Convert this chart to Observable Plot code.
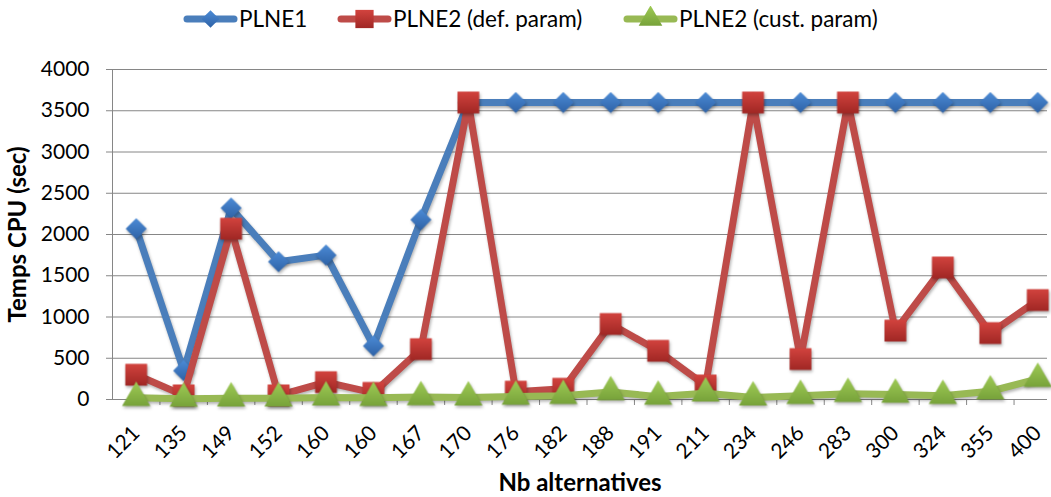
<!DOCTYPE html>
<html>
<head>
<meta charset="utf-8">
<script src="https://cdn.jsdelivr.net/npm/d3@7"></script>
<script src="https://cdn.jsdelivr.net/npm/@observablehq/plot@0.6"></script>
<style>
  html, body { margin: 0; padding: 0; background: #fff; }
  body { width: 1051px; height: 497px; overflow: hidden; font-family: Lato, "Open Sans", sans-serif; }
  #legend { position: relative; height: 38px; width: 1051px; }
  .item { position: absolute; top: 5px; display: flex; align-items: center; font-size: 22.5px; color: #000; white-space: nowrap; }
  .item svg { display: block; margin-right: 1px; }
  #defs { position: absolute; width: 0; height: 0; }
</style>
</head>
<body>
<svg id="defs" aria-hidden="true">
  <defs>
    <linearGradient id="gBlue" x1="0" y1="0" x2="0" y2="1">
      <stop offset="0" stop-color="#4C8BD6"/><stop offset="1" stop-color="#2E62A6"/>
    </linearGradient>
    <linearGradient id="gRed" x1="0" y1="0" x2="0" y2="1">
      <stop offset="0" stop-color="#D2433E"/><stop offset="1" stop-color="#A02724"/>
    </linearGradient>
    <linearGradient id="gGreen" x1="0" y1="0" x2="0" y2="1">
      <stop offset="0" stop-color="#9FCB55"/><stop offset="1" stop-color="#77A23A"/>
    </linearGradient>
  </defs>
</svg>
<div id="legend"></div>
<div id="chart"></div>
<script>
// ---- data ----
const labels = ["121","135","149","152","160","160","167","170","176","182","188","191","211","234","246","283","300","324","355","400"];
const plne1     = [2070, 350, 2320, 1670, 1750, 650, 2180, 3600, 3600, 3600, 3600, 3600, 3600, 3600, 3600, 3600, 3600, 3600, 3600, 3600];
const plne2Def  = [300, 50, 2070, 50, 210, 80, 610, 3600, 95, 130, 915, 590, 170, 3600, 490, 3600, 835, 1600, 805, 1205];
const plne2Cust = [20, 10, 15, 15, 25, 20, 30, 25, 35, 45, 90, 35, 75, 25, 45, 70, 60, 45, 100, 250];
const seriesNames = ["PLNE1", "PLNE2 (def. param)", "PLNE2 (cust. param)"];
const yTicks = [0, 500, 1000, 1500, 2000, 2500, 3000, 3500, 4000];

const styles = {
  "PLNE1": {line: "#4A7EBB", fill: "url(#gBlue)", symbol: "diamond2", r: 9.5},
  "PLNE2 (def. param)": {line: "#BE4B48", fill: "url(#gRed)", symbol: "square", r: 12.3},
  "PLNE2 (cust. param)": {line: "#98B954", fill: "url(#gGreen)", symbol: "triangle", r: 10.5}
};

const seriesValues = [plne1, plne2Def, plne2Cust];
const rows = seriesValues.flatMap((vals, s) => vals.map((v, i) => ({series: seriesNames[s], i, value: v})));
const idx = labels.map((_, i) => i);
const edges = labels.map((_, i) => i + 0.5);

// ---- legend ----
const legend = document.getElementById("legend");
const legendLeft = [183, 337, 623];
seriesNames.forEach((name, k) => {
  const st = styles[name];
  const item = document.createElement("div");
  item.className = "item";
  item.style.left = legendLeft[k] + "px";
  const sw = d3.create("svg").attr("width", 55).attr("height", 26);
  sw.append("line").attr("x1", 4).attr("x2", 51).attr("y1", 13).attr("y2", 13)
    .attr("stroke", st.line).attr("stroke-width", 7).attr("stroke-linecap", "round");
  const sym = d3.symbol().type({diamond2: d3.symbolDiamond2, square: d3.symbolSquare, triangle: d3.symbolTriangle}[st.symbol]).size(Math.PI * st.r * st.r * 0.7);
  sw.append("path").attr("d", sym()).attr("transform", "translate(27.5,13)").attr("fill", st.fill);
  item.appendChild(sw.node());
  const t = document.createElement("span");
  t.textContent = name;
  item.appendChild(t);
  legend.appendChild(item);
});

// ---- chart ----
const gray = "#868686";
const marks = [
  Plot.gridY(yTicks, {stroke: gray, strokeOpacity: 1, strokeWidth: 1}),
  Plot.frame({anchor: "left", stroke: gray, strokeWidth: 1}),
  Plot.axisY(yTicks, {tickSize: 6, tickPadding: 17, tickFormat: d3.format("d"), stroke: gray, fill: "#000", fontSize: 21, label: null}),
  Plot.axisX(edges, {tickSize: 6, tickFormat: () => "", stroke: gray, label: null}),
  Plot.axisX(idx, {tickSize: 0, tickPadding: 30, tickRotate: -45, tickFormat: i => labels[i], fill: "#000", fontSize: 21, label: null}),
  Plot.text(["Temps CPU (sec)"], {frameAnchor: "left", textAnchor: "middle", rotate: -90, dx: -94, fontWeight: "bold", fontSize: 24, fill: "#000"}),
  Plot.text(["Nb alternatives"], {frameAnchor: "bottom", textAnchor: "middle", dy: 91, fontWeight: "bold", fontSize: 24, fill: "#000"})
];
seriesNames.forEach(name => {
  const st = styles[name];
  const d = rows.filter(r => r.series === name);
  marks.push(
    Plot.line(d, {x: "i", y: "value", stroke: st.line, strokeWidth: 7, strokeLinecap: "round", strokeLinejoin: "round", curve: "linear"}),
    Plot.dot(d, {x: "i", y: "value", symbol: st.symbol, r: st.r, fill: st.fill, stroke: "none"})
  );
});

const chart = Plot.plot({
  width: 1051,
  height: 459,
  marginLeft: 112,
  marginRight: 4,
  marginTop: 31,
  marginBottom: 98,
  x: {type: "linear", domain: [-0.5, 19.5], insetRight: -14},
  y: {type: "linear", domain: [0, 4000]},
  style: {fontFamily: "Lato, 'Open Sans', sans-serif", fontSize: "20px", color: "#000", background: "#fff", overflow: "visible"},
  marks
});
chart.querySelectorAll('g[aria-label="dot"], g[aria-label="line"]').forEach(g => {
  g.style.filter = "drop-shadow(1px 2px 1.5px rgba(0,0,0,0.3))";
});
document.getElementById("chart").appendChild(chart);
</script>
</body>
</html>
